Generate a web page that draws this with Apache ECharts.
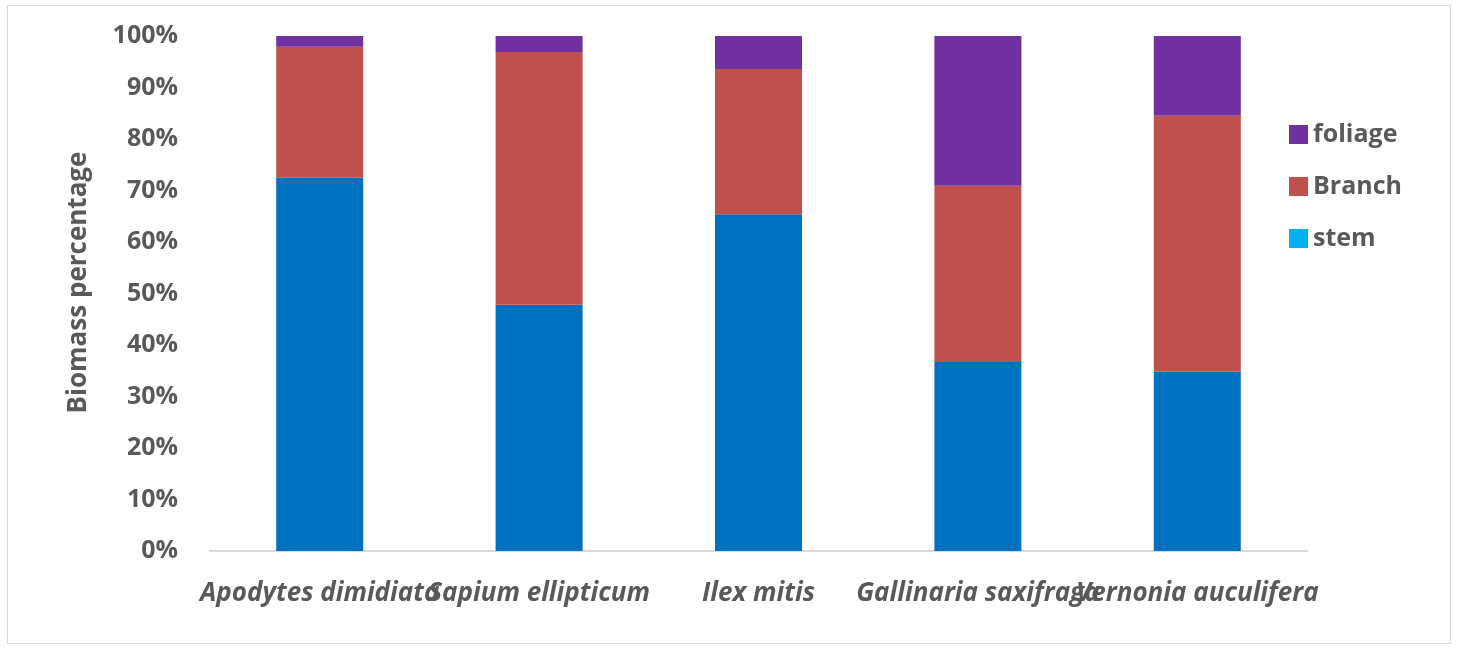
<!DOCTYPE html>
<html>
<head>
<meta charset="utf-8">
<script src="https://cdn.jsdelivr.net/npm/echarts@6/dist/echarts.min.js"></script>
<style>
html,body{margin:0;padding:0;background:#fff;}
#frame{position:absolute;left:7px;top:5px;width:1444px;height:639px;border:1.5px solid #d9d9d9;box-sizing:border-box;}
#chart{position:absolute;left:0;top:0;width:1460px;height:652px;}
</style>
</head>
<body>
<div id="frame"></div>
<div id="chart"></div>
<script>
const categories = ['Apodytes dimidiata', 'Sapium ellipticum', 'Ilex mitis', 'Gallinaria saxifraga', 'Vernonia auculifera'];
const stem = [72.5, 47.8, 65.4, 36.7, 34.8];
const branch = [25.4, 49.1, 28.2, 34.2, 49.7];
const foliage = [2.1, 3.1, 6.4, 29.1, 15.5];
const yTicks = [0, 10, 20, 30, 40, 50, 60, 70, 80, 90, 100];

const chart = echarts.init(document.getElementById('chart'));
const txt = '#595959';
const font = '"Open Sans", "Noto Sans", sans-serif';
chart.setOption({
  animation: false,
  grid: { left: 210, right: 153, top: 36, bottom: 101 },
  legend: {
    orient: 'vertical',
    left: 1284,
    top: 117,
    itemWidth: 19,
    itemHeight: 19,
    itemGap: 27,
    icon: 'rect',
    textStyle: { color: txt, fontSize: 25, fontWeight: 'bold', fontFamily: font },
    data: [
      { name: 'foliage' },
      { name: 'Branch' },
      { name: 'stem', itemStyle: { color: '#00B0F0' } }
    ]
  },
  xAxis: {
    type: 'category',
    data: categories,
    axisLine: { lineStyle: { color: '#d9d9d9', width: 2 } },
    axisTick: { show: false },
    axisLabel: {
      interval: 0,
      color: txt,
      fontSize: 26,
      fontWeight: 'bold',
      fontStyle: 'italic',
      fontFamily: font,
      margin: 30,
      overflow: 'none'
    }
  },
  yAxis: {
    type: 'value',
    min: 0,
    max: 100,
    interval: 10,
    name: 'Biomass percentage',
    nameLocation: 'middle',
    nameGap: 118,
    nameTextStyle: { color: txt, fontSize: 26, fontWeight: 'bold', fontFamily: font, padding: [0, 0, 0, 22] },
    splitLine: { show: false },
    axisLine: { show: false },
    axisTick: { show: false },
    axisLabel: {
      color: txt,
      fontSize: 25,
      fontWeight: 'bold',
      fontFamily: font,
      margin: 32,
      formatter: v => (yTicks.includes(v) ? v + '%' : '')
    }
  },
  series: [
    { name: 'stem', type: 'bar', stack: 'a', data: stem, barWidth: 87, itemStyle: { color: '#0070C0' } },
    { name: 'Branch', type: 'bar', stack: 'a', data: branch, barWidth: 87, itemStyle: { color: '#C0504D' } },
    { name: 'foliage', type: 'bar', stack: 'a', data: foliage, barWidth: 87, itemStyle: { color: '#7030A0' } }
  ]
});
</script>
</body>
</html>
